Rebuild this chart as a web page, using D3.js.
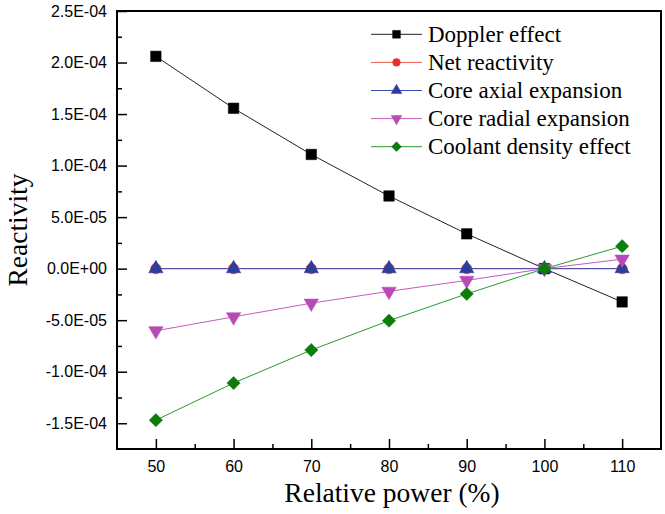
<!DOCTYPE html>
<meta charset="utf-8">
<style>
    body { margin: 0; background: #fff; }
    .tick text { font: 16px "Liberation Sans", Arial, sans-serif; fill: #000; }
    .tick line { stroke: #000; stroke-width: 1.5px; }
    .domain { display: none; }
    .title { font-family: "Liberation Serif", "Times New Roman", serif; font-size: 27.5px; fill: #000; }
    .legend text { font-family: "Liberation Serif", "Times New Roman", serif; font-size: 23px; fill: #000; }
</style>
<svg width="665" height="514"></svg>
<script src="https://d3js.org/d3.v7.min.js"></script>
<script>

    // relative power (%)
    var power = [50, 60, 70, 80, 90, 100, 110];

    // reactivity of each feedback component
    var doppler = [2.06e-4, 1.556e-4, 1.108e-4, 0.705e-4, 0.338e-4, 0.0, -0.323e-4];
    var netReactivity = [0, 0, 0, 0, 0, 0, 0];
    var coreAxial = [0, 0, 0, 0, 0, 0, 0];
    var coreRadial = [-0.603e-4, -0.468e-4, -0.335e-4, -0.22e-4, -0.114e-4, 0.0, 0.092e-4];
    var coolant = [-1.47e-4, -1.11e-4, -0.79e-4, -0.505e-4, -0.245e-4, 0.0, 0.218e-4];

    var seriesNames = ["Doppler effect", "Net reactivity", "Core axial expansion", "Core radial expansion", "Coolant density effect"];

    var xTicks = [50, 60, 70, 80, 90, 100, 110];
    var xMinorTicks = [55, 65, 75, 85, 95, 105];
    var yTicks = [-1.5e-4, -1.0e-4, -5.0e-5, 0, 5.0e-5, 1.0e-4, 1.5e-4, 2.0e-4, 2.5e-4];
    var yMinorTicks = [-1.25e-4, -0.75e-4, -0.25e-4, 0.25e-4, 0.75e-4, 1.25e-4, 1.75e-4, 2.25e-4];

    var series = [
        { name: seriesNames[0], values: doppler, color: "#000000", line: "#222", shape: "square" },
        { name: seriesNames[1], values: netReactivity, color: "#e8302a", line: "#f05a50", shape: "circle" },
        { name: seriesNames[2], values: coreAxial, color: "#2b3d9e", line: "#3b4cb0", shape: "up" },
        { name: seriesNames[3], values: coreRadial, color: "#b84ab5", line: "#c25ac0", shape: "down" },
        { name: seriesNames[4], values: coolant, color: "#0b7d0b", line: "#2a9a2a", shape: "diamond" }
    ];

    var svg = d3.select("svg"),
        plotLeft = 117, plotRight = 661, plotTop = 11, plotBottom = 449;

    var x = d3.scaleLinear().domain([45, 115]).range([plotLeft, plotRight]);
    var y = d3.scaleLinear().domain([-1.75e-4, 2.5e-4]).range([plotBottom, plotTop]);

    function sci(d) {
        if (Math.abs(d) < 1e-12) return "0.0E+00";
        var s = d.toExponential(1).split("e");
        var e = +s[1];
        return s[0] + "E" + (e < 0 ? "-" : "+") + (Math.abs(e) < 10 ? "0" : "") + Math.abs(e);
    }

    // axes, ticks pointing into the plot
    svg.append("g")
        .attr("transform", "translate(0," + plotBottom + ")")
        .call(d3.axisBottom(x).tickValues(xTicks).tickSizeInner(-10).tickSizeOuter(0).tickPadding(12));
    svg.append("g")
        .attr("transform", "translate(0," + plotBottom + ")")
        .call(d3.axisBottom(x).tickValues(xMinorTicks).tickSizeInner(-5).tickSizeOuter(0).tickFormat(""));
    svg.append("g")
        .attr("transform", "translate(" + plotLeft + ",0)")
        .call(d3.axisLeft(y).tickValues(yTicks).tickSizeInner(-10).tickSizeOuter(0).tickPadding(10).tickFormat(sci));
    svg.append("g")
        .attr("transform", "translate(" + plotLeft + ",0)")
        .call(d3.axisLeft(y).tickValues(yMinorTicks).tickSizeInner(-5).tickSizeOuter(0).tickFormat(""));

    svg.append("rect")
        .attr("x", plotLeft).attr("y", plotTop)
        .attr("width", plotRight - plotLeft).attr("height", plotBottom - plotTop)
        .attr("fill", "none").attr("stroke", "#000").attr("stroke-width", 2);

    function markerPath(shape, scale) {
        if (shape === "square") return d3.symbol(d3.symbolSquare, 110 * scale)();
        if (shape === "circle") return d3.symbol(d3.symbolCircle, 85 * scale)();
        if (shape === "diamond") return d3.symbol(d3.symbolSquare, 88 * scale)();
        return d3.symbol(d3.symbolTriangle, 90 * scale)();
    }
    function markerRotate(shape) {
        if (shape === "down") return " rotate(180)";
        if (shape === "diamond") return " rotate(45)";
        return "";
    }

    var line = d3.line()
        .x(function (d, i) { return x(power[i]); })
        .y(function (d) { return y(d); });

    var plot = svg.append("g");

    series.forEach(function (s) {
        var g = plot.append("g");
        g.append("path")
            .attr("d", line(s.values))
            .attr("fill", "none")
            .attr("stroke", s.line)
            .attr("stroke-width", 1);
        g.selectAll("path.m")
            .data(s.values)
            .enter().append("path")
            .attr("class", "m")
            .attr("d", markerPath(s.shape, 1))
            .attr("transform", function (d, i) {
                return "translate(" + x(power[i]) + "," + y(d) + ")" + markerRotate(s.shape);
            })
            .attr("fill", s.color)
            .attr("stroke", s.color)
            .attr("stroke-width", 0.5);
    });

    // legend
    var legend = svg.append("g").attr("class", "legend");
    var rowY = d3.scaleLinear().domain([0, 4]).range([34.3, 146.7]);
    series.forEach(function (s, i) {
        var g = legend.append("g").attr("transform", "translate(0," + rowY(i) + ")");
        g.append("line")
            .attr("x1", 371).attr("x2", 422)
            .attr("stroke", s.line).attr("stroke-width", 1);
        g.append("path")
            .attr("d", markerPath(s.shape, 0.55))
            .attr("transform", "translate(396.5,0)" + markerRotate(s.shape))
            .attr("fill", s.color).attr("stroke", s.color).attr("stroke-width", 0.5);
        g.append("text")
            .attr("x", 428).attr("y", 7.5)
            .text(s.name);
    });

    // axis titles
    svg.append("text")
        .attr("class", "title")
        .attr("x", 392).attr("y", 502)
        .attr("text-anchor", "middle")
        .text("Relative power (%)");
    svg.append("text")
        .attr("class", "title")
        .attr("transform", "translate(27,230) rotate(-90)")
        .attr("text-anchor", "middle")
        .text("Reactivity");

</script>
